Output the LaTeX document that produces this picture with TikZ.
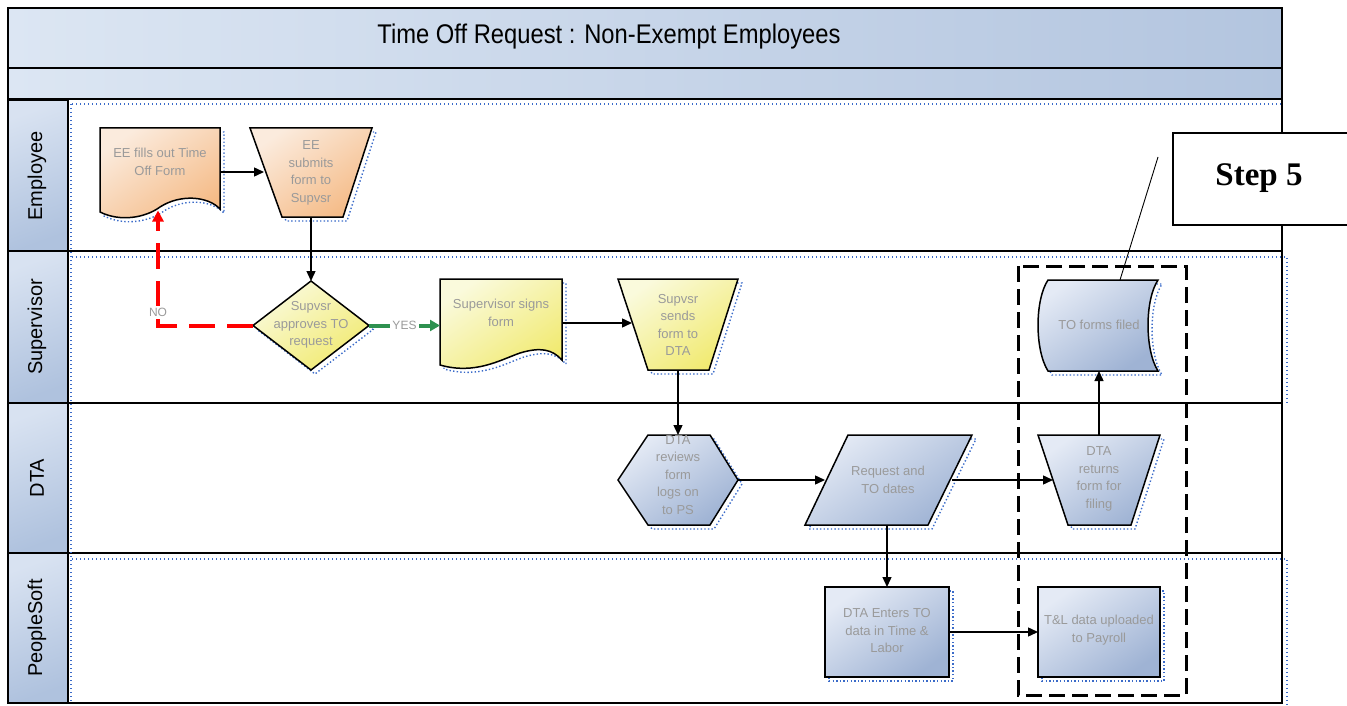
\documentclass[tikz,border=0pt]{standalone}
\usepackage{fontspec}
\setmainfont{Liberation Sans}
\newfontfamily\stepfont{Liberation Serif}
\usetikzlibrary{arrows.meta}
\definecolor{bandL}{HTML}{DCE6F3}
\definecolor{bandR}{HTML}{B3C5DF}
\definecolor{hdrL}{HTML}{D8E2F1}
\definecolor{hdrD}{HTML}{AFC2DE}
\definecolor{orL}{HTML}{FBEBDD}
\definecolor{orD}{HTML}{F5BB87}
\definecolor{yeL}{HTML}{FAFADC}
\definecolor{yeD}{HTML}{F1EA70}
\definecolor{blL}{HTML}{E4EAF5}
\definecolor{blD}{HTML}{9FB3D4}
\definecolor{dotblue}{HTML}{3B6BC9}
\definecolor{txtgray}{HTML}{9A9A9A}
\definecolor{yesgreen}{HTML}{2E9150}
\newcommand\shadowed[2]{\draw[dotshadow,xshift=4pt,yshift=-4pt] #2; \path[#1] #2;}
\begin{document}
\begin{tikzpicture}[x=1pt,y=-1pt,
  frame/.style={draw=black,line width=1.4pt},
  hdr/.style={draw=black,line width=1.2pt,top color=hdrL,bottom color=hdrD,shading angle=20},
  lanelbl/.style={rotate=90,font=\fontsize{20}{22}\selectfont,text=black},
  dotline/.style={draw=dotblue,line width=1.3pt,dash pattern=on 1.3pt off 2.7pt},
  dotshadow/.style={draw=dotblue,line width=1.4pt,dash pattern=on 1.4pt off 2.2pt},
  orshape/.style={draw=black,line width=1.5pt,top color=orL,bottom color=orD,shading angle=35},
  yeshape/.style={draw=black,line width=1.5pt,top color=yeL,bottom color=yeD,shading angle=35},
  blshape/.style={draw=black,line width=1.5pt,top color=blL,bottom color=blD,shading angle=35},
  bb/.style={inner sep=0pt,outer sep=0pt,draw=none},
  txt/.style={font=\fontsize{13}{17.5}\selectfont,text=txtgray,align=center},
  lbl/.style={font=\fontsize{12}{14}\selectfont,text=txtgray,inner sep=2pt},
  arr/.style={draw=black,line width=1.4pt,-{Triangle[length=10pt,width=9pt]}},
  noline/.style={draw=red,line width=4pt,dash pattern=on 26pt off 12pt,-{Triangle[length=11pt,width=11pt]}},
  yesline/.style={draw=yesgreen,line width=4pt,-{Triangle[length=10pt,width=11pt]}},
  stepbox/.style={draw=black,line width=1.3pt,fill=white,inner sep=0pt},
  focus/.style={draw=black,line width=3pt,dash pattern=on 16pt off 7pt}
]
\useasboundingbox (0,0) rectangle (1347,706);
% bands
\path[left color=bandL,right color=bandR] (8,8) rectangle (1282,68);
\path[left color=bandL,right color=bandR] (8,68) rectangle (1282,99);
\draw[frame] (8,68) -- (1282,68);
\draw[frame] (8,99) -- (1282,99);
\node[font=\fontsize{27}{30}\selectfont,xscale=0.88] (title) at (609,37) {Time Off Request : Non-Exempt Employees};
% lane headers
\path[hdr] (8,100) rectangle (68,251);
\path[hdr] (8,251) rectangle (68,403);
\path[hdr] (8,403) rectangle (68,553);
\path[hdr] (8,553) rectangle (68,703);
\node[lanelbl] (lEmp) at (37,176) {Employee};
\node[lanelbl] (lSup) at (37,327) {Supervisor};
\node[lanelbl] (lDTA) at (37,478) {DTA};
\node[lanelbl] (lPS) at (37,628) {PeopleSoft};
% lane separators
\draw[frame] (8,251) -- (1282,251);
\draw[frame] (8,403) -- (1282,403);
\draw[frame] (8,553) -- (1282,553);
\draw[frame] (8,8) rectangle (1282,703);
% dotted lane shadows
\draw[dotline] (72,104) -- (1282,104);
\draw[dotline] (72,257) -- (1287,257) -- (1287,405);
\draw[dotline] (72,559) -- (1287,559) -- (1287,706);
\draw[dotline] (71,104) -- (71,703);
% shapes
\shadowed{orshape}{(100,128) -- (220,128) -- (220,209) .. controls (208,196) and (180,194) .. (160,207) .. controls (145,218) and (120,222) .. (100,212) -- cycle}
\node[bb,minimum width=120pt,minimum height=87pt] (doc1) at (160,172) {};
\node[txt] (doc1t) at (160,162) {EE fills out Time\\Off Form};

\shadowed{orshape}{(250,128) -- (372,128) -- (343,217) -- (282,217) -- cycle}
\node[bb,minimum width=122pt,minimum height=89pt] (trap1) at (311,172.5) {};
\node[txt] (trap1t) at (311,173) {EE\\submits\\form to\\Supvsr};

\shadowed{yeshape}{(311,281) -- (369,325.5) -- (311,370) -- (253,325.5) -- cycle}
\node[bb,minimum width=116pt,minimum height=89pt] (dia) at (311,325.5) {};
\node[txt] (diat) at (311,325) {Supvsr\\approves TO\\request};

\shadowed{yeshape}{(440,279) -- (562,279) -- (562,360) .. controls (552,349) and (540,347) .. (520,353) .. controls (500,360) and (475,375) .. (440,365) -- cycle}
\node[bb,minimum width=122pt,minimum height=88pt] (doc2) at (501,323) {};
\node[txt] (doc2t) at (501,313) {Supervisor signs\\form};

\shadowed{yeshape}{(618,279) -- (738,279) -- (709,370) -- (648,370) -- cycle}
\node[bb,minimum width=120pt,minimum height=91pt] (trap2) at (678,324.5) {};
\node[txt] (trap2t) at (678,325) {Supvsr\\sends\\form to\\DTA};

\shadowed{blshape}{(618,480) -- (648,435) -- (710,435) -- (738,480) -- (710,525) -- (648,525) -- cycle}
\node[bb,minimum width=120pt,minimum height=90pt] (hex) at (678,480) {};
\node[txt] (hext) at (678,475) {DTA\\reviews\\form\\logs on\\to PS};

\shadowed{blshape}{(848,435) -- (972,435) -- (928,525) -- (805,525) -- cycle}
\node[bb,minimum width=167pt,minimum height=90pt] (para) at (888.5,480) {};
\node[txt] (parat) at (888,480) {Request and\\TO dates};

\shadowed{blshape}{(1038,435) -- (1160,435) -- (1131,525) -- (1068,525) -- cycle}
\node[bb,minimum width=122pt,minimum height=90pt] (trap3) at (1099,480) {};
\node[txt] (trap3t) at (1099,479) {DTA\\returns\\form for\\filing};

\shadowed{blshape}{(1048,280) -- (1158,280) .. controls (1144.7,300) and (1144.7,350) .. (1158,371) -- (1048,371) .. controls (1034.7,350) and (1034.7,300) .. (1048,280) -- cycle}
\node[bb,minimum width=122pt,minimum height=91pt] (stored) at (1099,325.5) {};
\node[txt] (storedt) at (1099,325) {TO forms filed};

\shadowed{blshape}{(825,587) rectangle (949,677)}
\node[bb,minimum width=124pt,minimum height=90pt] (rect1) at (887,632) {};
\node[txt] (rect1t) at (887,631) {DTA Enters TO\\data in Time \&\\Labor};

\shadowed{blshape}{(1038,587) rectangle (1160,677)}
\node[bb,minimum width=122pt,minimum height=90pt] (rect2) at (1099,632) {};
\node[txt] (rect2t) at (1099,630) {T\&L data uploaded\\to Payroll};

% connectors
\draw[arr] (doc1.east) -- ([xshift=14pt]trap1.west |- doc1.east);
\draw[arr] (trap1.south) -- (dia.north);
\draw[noline] (dia.west) -| ([xshift=-2pt,yshift=5pt]doc1.south) node[pos=0.557,lbl,fill=white] (nolbl) {NO};
\draw[yesline] (dia.east) -- (dia.east -| doc2.west) node[midway,lbl,fill=white] (yeslbl) {YES};
\draw[arr] (doc2.east) -- ([xshift=14pt]trap2.west |- doc2.east);
\draw[arr] (trap2.south) -- (hex.north);
\draw[arr] (hex.east) -- ([xshift=20pt]para.west |- hex.east);
\draw[arr] ([xshift=-20pt]para.east) -- ([xshift=15pt]trap3.west |- para.east);
\draw[arr] (rect1.north |- para.south) -- (rect1.north);
\draw[arr] (rect1.east) -- (rect2.west);
\draw[arr] (trap3.north) -- (stored.south);
% focus box and callout
\draw[focus] (1018,266) rectangle (1186,695);
\node[stepbox,minimum width=176pt,minimum height=92pt] (step) at (1261,179) {};
\node[font=\stepfont\bfseries\fontsize{33}{36}\selectfont] (steplbl) at (1259,178) {Step 5};
\coordinate (calltop) at (1158,157);
\draw[line width=0.9pt] (calltop) -- ([xshift=21pt]stored.north);
\end{tikzpicture}
\end{document}
